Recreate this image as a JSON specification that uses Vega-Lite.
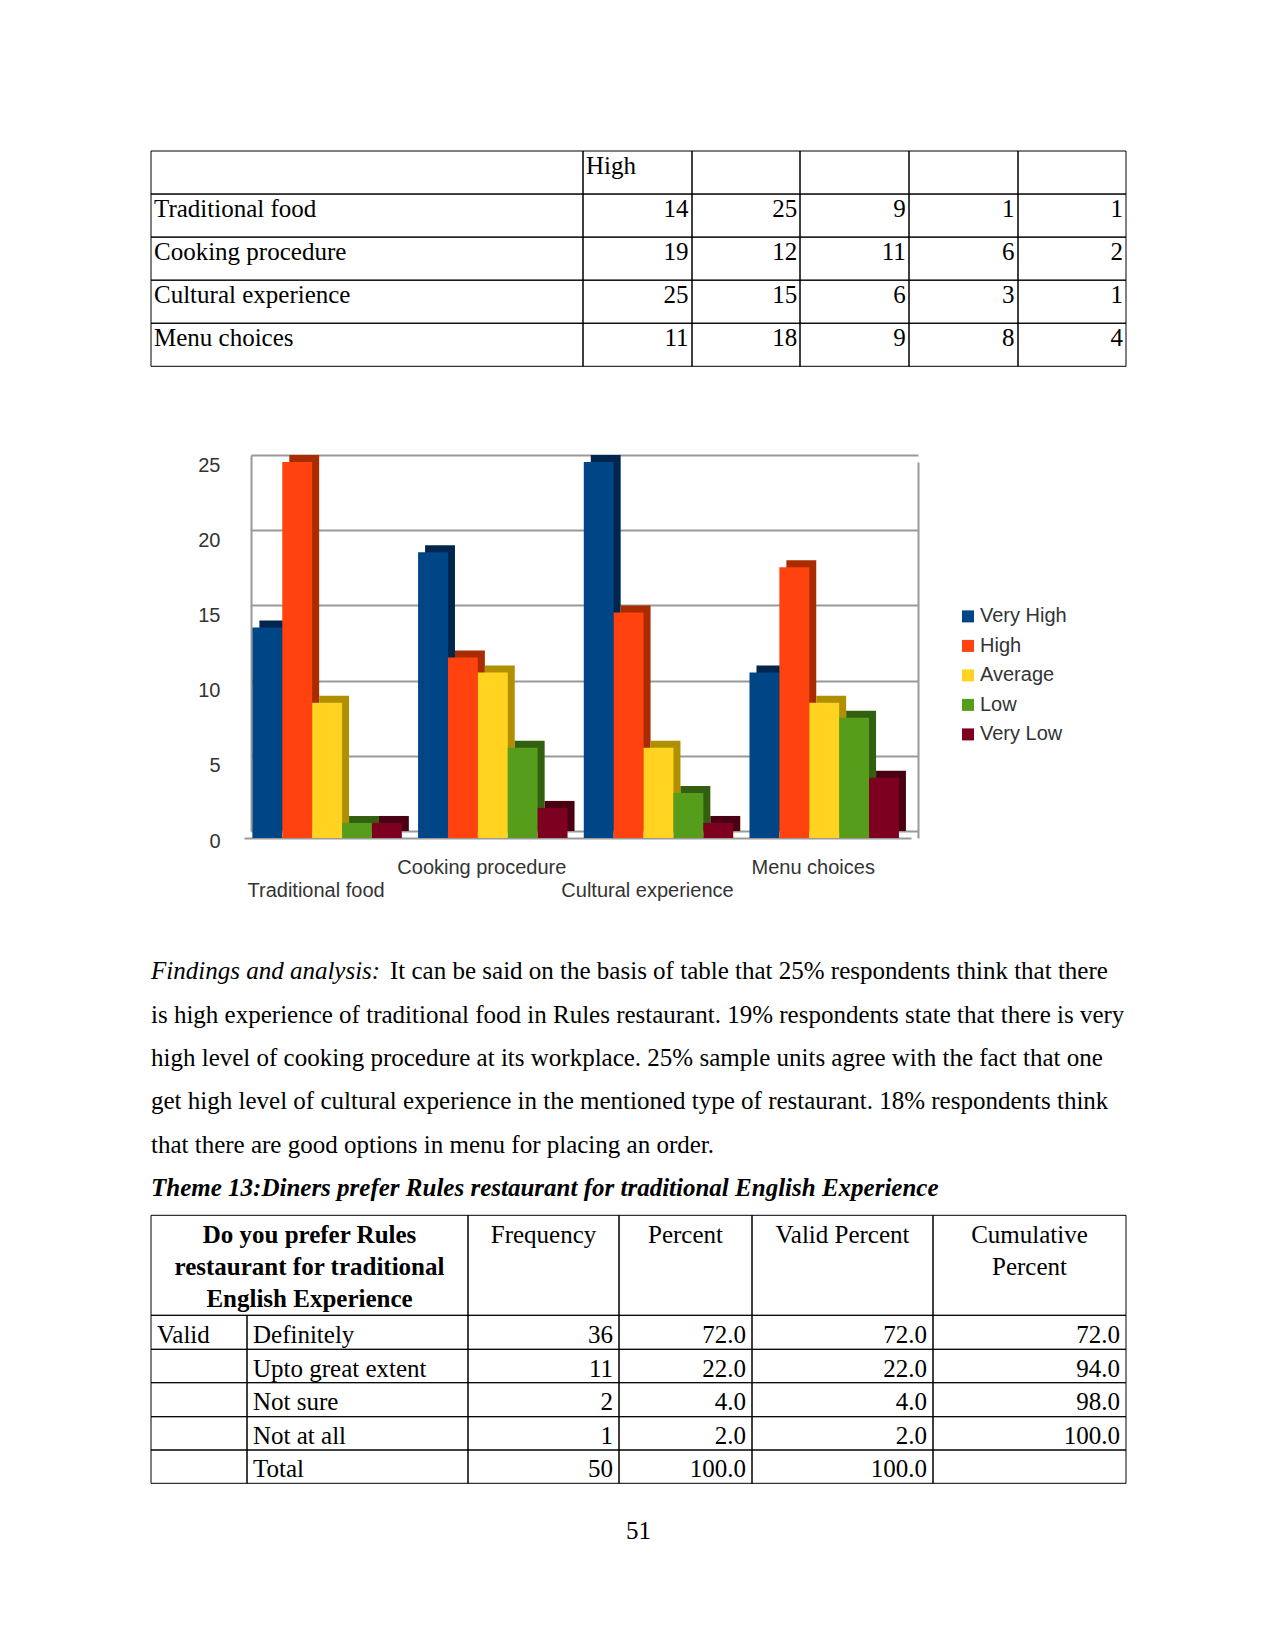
{
"$schema": "https://vega.github.io/schema/vega-lite/v6.json",
"background": "white",
"padding": {"left": 150, "top": 150, "right": 0, "bottom": 0},
"spacing": 0,
"config": {"view": {"stroke": null}, "concat": {"spacing": 0}},
"datasets": {
"chart": [
{"item":"Traditional food","level":"Very High","count":14},
{"item":"Traditional food","level":"High","count":25},
{"item":"Traditional food","level":"Average","count":9},
{"item":"Traditional food","level":"Low","count":1},
{"item":"Traditional food","level":"Very Low","count":1},
{"item":"Cooking procedure","level":"Very High","count":19},
{"item":"Cooking procedure","level":"High","count":12},
{"item":"Cooking procedure","level":"Average","count":11},
{"item":"Cooking procedure","level":"Low","count":6},
{"item":"Cooking procedure","level":"Very Low","count":2},
{"item":"Cultural experience","level":"Very High","count":25},
{"item":"Cultural experience","level":"High","count":15},
{"item":"Cultural experience","level":"Average","count":6},
{"item":"Cultural experience","level":"Low","count":3},
{"item":"Cultural experience","level":"Very Low","count":1},
{"item":"Menu choices","level":"Very High","count":11},
{"item":"Menu choices","level":"High","count":18},
{"item":"Menu choices","level":"Average","count":9},
{"item":"Menu choices","level":"Low","count":8},
{"item":"Menu choices","level":"Very Low","count":4}
],
"t1grid": [
{"r0":0,"r1":1,"c0":0,"c1":1},{"r0":0,"r1":1,"c0":1,"c1":2},{"r0":0,"r1":1,"c0":2,"c1":3},{"r0":0,"r1":1,"c0":3,"c1":4},{"r0":0,"r1":1,"c0":4,"c1":5},{"r0":0,"r1":1,"c0":5,"c1":6},
{"r0":1,"r1":2,"c0":0,"c1":1},{"r0":1,"r1":2,"c0":1,"c1":2},{"r0":1,"r1":2,"c0":2,"c1":3},{"r0":1,"r1":2,"c0":3,"c1":4},{"r0":1,"r1":2,"c0":4,"c1":5},{"r0":1,"r1":2,"c0":5,"c1":6},
{"r0":2,"r1":3,"c0":0,"c1":1},{"r0":2,"r1":3,"c0":1,"c1":2},{"r0":2,"r1":3,"c0":2,"c1":3},{"r0":2,"r1":3,"c0":3,"c1":4},{"r0":2,"r1":3,"c0":4,"c1":5},{"r0":2,"r1":3,"c0":5,"c1":6},
{"r0":3,"r1":4,"c0":0,"c1":1},{"r0":3,"r1":4,"c0":1,"c1":2},{"r0":3,"r1":4,"c0":2,"c1":3},{"r0":3,"r1":4,"c0":3,"c1":4},{"r0":3,"r1":4,"c0":4,"c1":5},{"r0":3,"r1":4,"c0":5,"c1":6},
{"r0":4,"r1":5,"c0":0,"c1":1},{"r0":4,"r1":5,"c0":1,"c1":2},{"r0":4,"r1":5,"c0":2,"c1":3},{"r0":4,"r1":5,"c0":3,"c1":4},{"r0":4,"r1":5,"c0":4,"c1":5},{"r0":4,"r1":5,"c0":5,"c1":6}
],
"t1labels": [
{"r":0,"c":1,"t":"High"},
{"r":1,"c":0,"t":"Traditional food"},
{"r":2,"c":0,"t":"Cooking procedure"},
{"r":3,"c":0,"t":"Cultural experience"},
{"r":4,"c":0,"t":"Menu choices"}
],
"para": [
{"line":1,"t":"It can be said on the basis of table that 25% respondents think that there"},
{"line":2,"t":"is high experience of traditional food in Rules restaurant. 19% respondents state that there is very"},
{"line":3,"t":"high level of cooking procedure at its workplace. 25% sample units  agree with the fact that one"},
{"line":4,"t":"get high level of cultural experience in the mentioned type of restaurant. 18% respondents think"},
{"line":5,"t":"that there are good options in menu for placing an order."}
],
"t2grid": [
{"r0":0,"r1":1,"c0":0,"c1":2},{"r0":0,"r1":1,"c0":2,"c1":3},{"r0":0,"r1":1,"c0":3,"c1":4},{"r0":0,"r1":1,"c0":4,"c1":5},{"r0":0,"r1":1,"c0":5,"c1":6},
{"r0":1,"r1":2,"c0":0,"c1":1},{"r0":1,"r1":2,"c0":1,"c1":2},{"r0":1,"r1":2,"c0":2,"c1":3},{"r0":1,"r1":2,"c0":3,"c1":4},{"r0":1,"r1":2,"c0":4,"c1":5},{"r0":1,"r1":2,"c0":5,"c1":6},
{"r0":2,"r1":3,"c0":0,"c1":1},{"r0":2,"r1":3,"c0":1,"c1":2},{"r0":2,"r1":3,"c0":2,"c1":3},{"r0":2,"r1":3,"c0":3,"c1":4},{"r0":2,"r1":3,"c0":4,"c1":5},{"r0":2,"r1":3,"c0":5,"c1":6},
{"r0":3,"r1":4,"c0":0,"c1":1},{"r0":3,"r1":4,"c0":1,"c1":2},{"r0":3,"r1":4,"c0":2,"c1":3},{"r0":3,"r1":4,"c0":3,"c1":4},{"r0":3,"r1":4,"c0":4,"c1":5},{"r0":3,"r1":4,"c0":5,"c1":6},
{"r0":4,"r1":5,"c0":0,"c1":1},{"r0":4,"r1":5,"c0":1,"c1":2},{"r0":4,"r1":5,"c0":2,"c1":3},{"r0":4,"r1":5,"c0":3,"c1":4},{"r0":4,"r1":5,"c0":4,"c1":5},{"r0":4,"r1":5,"c0":5,"c1":6},
{"r0":5,"r1":6,"c0":0,"c1":1},{"r0":5,"r1":6,"c0":1,"c1":2},{"r0":5,"r1":6,"c0":2,"c1":3},{"r0":5,"r1":6,"c0":3,"c1":4},{"r0":5,"r1":6,"c0":4,"c1":5},{"r0":5,"r1":6,"c0":5,"c1":6}
],
"t2cells": [
{"r":1,"c":0,"v":"Valid"},{"r":1,"c":1,"v":"Definitely"},{"r":1,"c":2,"v":"36"},{"r":1,"c":3,"v":"72.0"},{"r":1,"c":4,"v":"72.0"},{"r":1,"c":5,"v":"72.0"},
{"r":2,"c":1,"v":"Upto great extent"},{"r":2,"c":2,"v":"11"},{"r":2,"c":3,"v":"22.0"},{"r":2,"c":4,"v":"22.0"},{"r":2,"c":5,"v":"94.0"},
{"r":3,"c":1,"v":"Not sure"},{"r":3,"c":2,"v":"2"},{"r":3,"c":3,"v":"4.0"},{"r":3,"c":4,"v":"4.0"},{"r":3,"c":5,"v":"98.0"},
{"r":4,"c":1,"v":"Not at all"},{"r":4,"c":2,"v":"1"},{"r":4,"c":3,"v":"2.0"},{"r":4,"c":4,"v":"2.0"},{"r":4,"c":5,"v":"100.0"},
{"r":5,"c":1,"v":"Total"},{"r":5,"c":2,"v":"50"},{"r":5,"c":3,"v":"100.0"},{"r":5,"c":4,"v":"100.0"}
],
"t2head": [
{"r":0,"c":2,"v":["Frequency"]},
{"r":0,"c":3,"v":["Percent"]},
{"r":0,"c":4,"v":["Valid Percent"]},
{"r":0,"c":5,"v":["Cumulative","Percent"]}
]
},
"vconcat": [
{
"width": 975, "height": 303.6,
"resolve": {"scale": {"x": "independent", "y": "independent"}},
"layer": [
{"data": {"name": "t1grid"},
 "mark": {"type": "rect", "filled": false, "stroke": "black", "strokeWidth": 1},
 "encoding": {
  "x": {"field": "c0", "type": "quantitative", "scale": {"domain": [0,1,2,3,4,5,6], "range": [0,432,541,649,758,867,975], "nice": false, "zero": false}, "axis": null},
  "x2": {"field": "c1"},
  "y": {"field": "r0", "type": "quantitative", "scale": {"domain": [0,5], "range": [0,215.3], "nice": false, "zero": false}, "axis": null},
  "y2": {"field": "r1"}
 }},
{"data": {"name": "t1labels"},
 "mark": {"type": "text", "align": "left", "baseline": "alphabetic", "dx": 3, "dy": 22.5, "font": "Liberation Serif", "fontSize": 25, "fill": "black"},
 "encoding": {
  "x": {"field": "c", "type": "quantitative", "scale": {"domain": [0,1], "range": [0,432], "nice": false, "zero": false}, "axis": null},
  "y": {"field": "r", "type": "quantitative", "scale": {"domain": [0,5], "range": [0,215.3], "nice": false, "zero": false}, "axis": null},
  "text": {"field": "t"}
 }},
{"data": {"name": "chart"},
 "mark": {"type": "text", "align": "right", "baseline": "alphabetic", "dx": 51.3, "dy": 1, "font": "Liberation Serif", "fontSize": 25, "fill": "black"},
 "encoding": {
  "x": {"field": "level", "type": "nominal", "sort": ["Very High","High","Average","Low","Very Low"], "scale": {"range": [432, 975], "paddingInner": 0, "paddingOuter": 0}, "axis": null},
  "y": {"field": "item", "type": "nominal", "sort": ["Traditional food","Cooking procedure","Cultural experience","Menu choices"], "scale": {"range": [43.06, 215.3], "paddingInner": 0, "paddingOuter": 0}, "axis": null},
  "text": {"field": "count", "type": "quantitative"}
 }}
]
},
{
"spacing": 0,
"hconcat": [
{"width": 45.76, "height": 10, "data": {"values": []}, "mark": {"type": "text"}, "encoding": {}},
{
"width": 667, "height": 376,
"data": {"name": "chart"},
"layer": [
{"mark": {"type": "bar"},
 "encoding": {
  "x": {"field": "item", "type": "nominal", "sort": ["Traditional food","Cooking procedure","Cultural experience","Menu choices"],
   "scale": {"range": [7, 674], "paddingInner": 0.098, "paddingOuter": 0.0617, "align": 0.41}, "axis": null},
  "xOffset": {"field": "level", "type": "nominal", "sort": ["Very High","High","Average","Low","Very Low"], "scale": {"paddingInner": 0, "paddingOuter": 0}},
  "y": {"field": "count", "type": "quantitative", "scale": {"domain": [0,25], "range": [369, -7], "nice": false, "zero": false},
   "axis": {"orient": "left", "offset": -7, "title": null, "ticks": false, "values": [0,5,10,15,20,25], "grid": true, "gridColor": "#999999", "gridWidth": 2,
    "domain": true, "domainColor": "#999999", "domainWidth": 2, "labelPadding": 31, "labelOffset": 10,
    "labelFont": "Liberation Sans", "labelFontSize": 20, "labelColor": "#333333"}},
  "color": {"field": "level", "type": "nominal", "scale": {"domain": ["Very High","High","Average","Low","Very Low"], "range": ["#00264d","#a82c00","#b09000","#335f10","#4a0013"]}, "legend": null}
 }},
{"mark": {"type": "bar"},
 "encoding": {
  "x": {"field": "item", "type": "nominal", "sort": ["Traditional food","Cooking procedure","Cultural experience","Menu choices"],
   "scale": {"paddingInner": 0.098, "paddingOuter": 0.0617, "align": 0.41},
   "axis": {"title": null, "ticks": false, "domain": true, "domainColor": "#999999", "domainWidth": 2, "labelAngle": 0,
    "labelFont": "Liberation Sans", "labelFontSize": 20, "labelColor": "#333333", "labelOffset": -11, "labelBaseline": "top",
    "labelOverlap": false, "labelBound": false, "labelLimit": 400,
    "labelPadding": {"condition": {"test": "datum.value === 'Traditional food' || datum.value === 'Cultural experience'", "value": 42}, "value": 19}}},
  "xOffset": {"field": "level", "type": "nominal", "sort": ["Very High","High","Average","Low","Very Low"], "scale": {"paddingInner": 0, "paddingOuter": 0}},
  "y": {"field": "count", "type": "quantitative", "scale": {"domain": [0,25], "nice": false},
   "axis": {"orient": "right", "offset": 7, "title": null, "labels": false, "ticks": false, "grid": false,
    "domain": true, "domainColor": "#999999", "domainWidth": 2}},
  "color": {"field": "level", "type": "nominal", "scale": {"domain": ["Very High","High","Average","Low","Very Low"], "range": ["#004586","#ff420e","#ffd320","#579d1c","#7e0021"]},
   "legend": {"orient": "none", "legendX": 714, "legendY": 144.4, "title": null, "padding": 0, "symbolType": "square", "symbolSize": 144, "symbolStrokeWidth": 0, "symbolOpacity": 1,
    "labelFont": "Liberation Sans", "labelFontSize": 20, "labelColor": "#333333", "labelOffset": 2, "rowPadding": 9.5}}
 }}
],
"resolve": {"scale": {"x": "independent", "y": "independent", "xOffset": "independent", "color": "independent"}, "axis": {"x": "independent", "y": "independent"}, "legend": {"color": "independent"}}
}
]
},
{
"width": 975, "height": 660,
"resolve": {"scale": {"x": "independent", "y": "independent"}},
"layer": [
{"data": {"values": [{"line": 1, "t": "Findings and analysis:"}]},
 "mark": {"type": "text", "align": "left", "baseline": "alphabetic", "font": "Liberation Serif", "fontSize": 25, "fontStyle": "italic", "fill": "black"},
 "encoding": {
  "x": {"datum": 0, "type": "quantitative", "scale": {"domain": [0,1], "range": [0,975], "nice": false, "zero": false}, "axis": null},
  "y": {"field": "line", "type": "quantitative", "scale": {"domain": [1,6], "range": [79.3,295.8], "nice": false, "zero": false}, "axis": null},
  "text": {"field": "t"}
 }},
{"data": {"name": "para"}, "transform": [{"filter": "datum.line === 1"}],
 "mark": {"type": "text", "align": "left", "baseline": "alphabetic", "dx": 239, "font": "Liberation Serif", "fontSize": 25, "fill": "black"},
 "encoding": {
  "x": {"datum": 0, "type": "quantitative", "scale": {"domain": [0,1], "range": [0,975], "nice": false, "zero": false}, "axis": null},
  "y": {"field": "line", "type": "quantitative", "scale": {"domain": [1,6], "range": [79.3,295.8], "nice": false, "zero": false}, "axis": null},
  "text": {"field": "t"}
 }},
{"data": {"name": "para"}, "transform": [{"filter": "datum.line > 1"}],
 "mark": {"type": "text", "align": "left", "baseline": "alphabetic", "font": "Liberation Serif", "fontSize": 25, "fill": "black"},
 "encoding": {
  "x": {"datum": 0, "type": "quantitative", "scale": {"domain": [0,1], "range": [0,975], "nice": false, "zero": false}, "axis": null},
  "y": {"field": "line", "type": "quantitative", "scale": {"domain": [1,6], "range": [79.3,295.8], "nice": false, "zero": false}, "axis": null},
  "text": {"field": "t"}
 }},
{"data": {"values": [{"line": 6, "t": "Theme 13:Diners prefer Rules restaurant for traditional English Experience"}]},
 "mark": {"type": "text", "align": "left", "baseline": "alphabetic", "font": "Liberation Serif", "fontSize": 25, "fontStyle": "italic", "fontWeight": "bold", "fill": "black"},
 "encoding": {
  "x": {"datum": 0, "type": "quantitative", "scale": {"domain": [0,1], "range": [0,975], "nice": false, "zero": false}, "axis": null},
  "y": {"field": "line", "type": "quantitative", "scale": {"domain": [1,6], "range": [79.3,295.8], "nice": false, "zero": false}, "axis": null},
  "text": {"field": "t"}
 }},
{"data": {"name": "t2grid"},
 "mark": {"type": "rect", "filled": false, "stroke": "black", "strokeWidth": 1},
 "encoding": {
  "x": {"field": "c0", "type": "quantitative", "scale": {"domain": [0,1,2,3,4,5,6], "range": [0,96,317,468,601,782,975], "nice": false, "zero": false}, "axis": null},
  "x2": {"field": "c1"},
  "y": {"field": "r0", "type": "quantitative", "scale": {"domain": [0,1,2,3,4,5,6], "range": [315.3,415.3,449.3,482.7,516.7,550,583.3], "nice": false, "zero": false}, "axis": null},
  "y2": {"field": "r1"}
 }},
{"data": {"name": "t2cells"}, "transform": [{"filter": "datum.c <= 1"}],
 "mark": {"type": "text", "align": "left", "baseline": "alphabetic", "dx": 6, "dy": 27.4, "font": "Liberation Serif", "fontSize": 25, "fill": "black"},
 "encoding": {
  "x": {"field": "c", "type": "quantitative", "scale": {"domain": [0,1], "range": [0,96], "nice": false, "zero": false}, "axis": null},
  "y": {"field": "r", "type": "quantitative", "scale": {"domain": [0,1,2,3,4,5], "range": [315.3,415.3,449.3,482.7,516.7,550], "nice": false, "zero": false}, "axis": null},
  "text": {"field": "v"}
 }},
{"data": {"name": "t2cells"}, "transform": [{"filter": "datum.c >= 2"}],
 "mark": {"type": "text", "align": "right", "baseline": "alphabetic", "dx": -6, "dy": 27.4, "font": "Liberation Serif", "fontSize": 25, "fill": "black"},
 "encoding": {
  "x": {"field": "c", "type": "quantitative", "scale": {"domain": [2,3,4,5], "range": [468,601,782,975], "nice": false, "zero": false}, "axis": null},
  "y": {"field": "r", "type": "quantitative", "scale": {"domain": [0,1,2,3,4,5], "range": [315.3,415.3,449.3,482.7,516.7,550], "nice": false, "zero": false}, "axis": null},
  "text": {"field": "v"}
 }},
{"data": {"name": "t2head"},
 "mark": {"type": "text", "align": "center", "baseline": "alphabetic", "dy": 27.4, "lineHeight": 32.3, "font": "Liberation Serif", "fontSize": 25, "fill": "black"},
 "encoding": {
  "x": {"field": "c", "type": "quantitative", "scale": {"domain": [0,2,3,4,5], "range": [158.5,392.5,534.5,691.5,878.5], "nice": false, "zero": false}, "axis": null},
  "y": {"field": "r", "type": "quantitative", "scale": {"domain": [0,1], "range": [315.3,415.3], "nice": false, "zero": false}, "axis": null},
  "text": {"field": "v"}
 }},
{"data": {"values": [{"r": 0, "c": 0, "v": ["Do you prefer Rules","restaurant for traditional","English Experience"]}]},
 "mark": {"type": "text", "align": "center", "baseline": "alphabetic", "dy": 27.4, "lineHeight": 32.3, "font": "Liberation Serif", "fontSize": 25, "fontWeight": "bold", "fill": "black"},
 "encoding": {
  "x": {"field": "c", "type": "quantitative", "scale": {"domain": [0,2,3,4,5], "range": [158.5,392.5,534.5,691.5,878.5], "nice": false, "zero": false}, "axis": null},
  "y": {"field": "r", "type": "quantitative", "scale": {"domain": [0,1], "range": [315.3,415.3], "nice": false, "zero": false}, "axis": null},
  "text": {"field": "v"}
 }},
{"data": {"values": [{"page": "51"}]},
 "mark": {"type": "text", "align": "center", "baseline": "alphabetic", "font": "Liberation Serif", "fontSize": 25, "fill": "black"},
 "encoding": {
  "x": {"datum": 0.5, "type": "quantitative", "scale": {"domain": [0,1], "range": [0,975], "nice": false, "zero": false}, "axis": null},
  "y": {"datum": 1, "type": "quantitative", "scale": {"domain": [0,1], "range": [0,639], "nice": false, "zero": false}, "axis": null},
  "text": {"field": "page"}
 }}
]
}
]
}
